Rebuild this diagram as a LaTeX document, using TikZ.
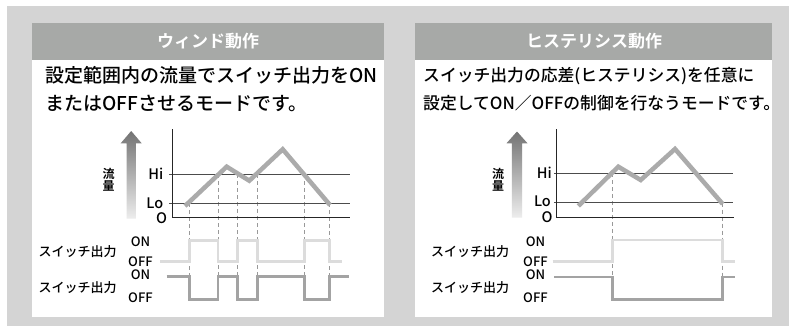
\documentclass[tikz,border=0pt]{standalone}
\usepackage{fontspec}
\setmainfont{Noto Sans CJK JP}[UprightFont={* Medium}, BoldFont={* Bold}]
\definecolor{bggray}{HTML}{D4D4D4}
\definecolor{headgray}{HTML}{A7A9A7}
\definecolor{flowgray}{HTML}{ABABAB}
\definecolor{onlight}{HTML}{DCDCDC}
\definecolor{onmid}{HTML}{A3A3A3}
\begin{document}
\begin{tikzpicture}[x=1pt, y=-1pt,
  headtext/.style={text=white, inner sep=0pt, font=\fontsize{17}{17}\selectfont\bfseries},
  desc/.style={anchor=west, inner sep=0pt, font=\fontsize{19}{19}\selectfont},
  descnarrow/.style={anchor=west, inner sep=0pt, font=\fontsize{16.8}{16.8}\selectfont},
  lbl/.style={inner sep=0pt, font=\fontsize{13}{13}\selectfont},
  lvl/.style={inner sep=0pt, font=\fontsize{14.5}{14.5}\selectfont},
  vtext/.style={inner sep=0pt, align=center, font=\fontsize{12}{12.5}\selectfont\bfseries},
  axisline/.style={line width=1.4pt, black!85},
  levelline/.style={line width=0.9pt, black!70},
  flowline/.style={line width=4.5pt, flowgray, line join=miter},
  guide/.style={line width=0.7pt, black!40, dash pattern=on 4pt off 3pt},
  swone/.style={line width=2.6pt, onlight},
  swtwo/.style={line width=2.6pt, onmid},
  uparrow/.style={top color=black!55, bottom color=black!7}]
\useasboundingbox (0,0) rectangle (789,326);
\fill[bggray] (7,6) rectangle (788.5,326);

% window mode
\fill[white] (32,60) rectangle (384,317);
\fill[headgray] (32,23) rectangle (384,60);
\node[headtext] (whead) at (208,41.5) {ウィンド動作};
\node[desc] (wtext1) at (45,75) {設定範囲内の流量でスイッチ出力をON};
\node[desc] (wtext2) at (45,103.5) {またはOFFさせるモードです。};

\draw[guide] (189.3,203.3) -- (189.3,277);
\draw[guide] (218,174.3) -- (218,277);
\draw[guide] (237.5,174.3) -- (237.5,277);
\draw[guide] (257.3,174.3) -- (257.3,277);
\draw[guide] (304.5,174.3) -- (304.5,277);
\draw[guide] (329.5,203.3) -- (329.5,277);

\draw[levelline] (169,174.3) -- (350,174.3);
\draw[levelline] (169,203.3) -- (350,203.3);
\draw[axisline] (172.3,129) -- (172.3,217.3) -- (350,217.3);
\draw[flowline] (185,206) -- (226.7,166.7) -- (249.3,180.7) -- (282.7,149.3) -- (330,205);

\draw[swone] (160,261.7) -- (189.3,261.7) -- (189.3,240.7) -- (218,240.7) -- (218,261.7)
  -- (237.5,261.7) -- (237.5,240.7) -- (257.3,240.7) -- (257.3,261.7)
  -- (304.5,261.7) -- (304.5,240.7) -- (329.5,240.7) -- (329.5,261.7) -- (341.7,261.7);
\draw[swtwo] (166.7,276.7) -- (189.3,276.7) -- (189.3,299.3) -- (218,299.3) -- (218,276.7)
  -- (237.5,276.7) -- (237.5,299.3) -- (257.3,299.3) -- (257.3,276.7)
  -- (304.5,276.7) -- (304.5,299.3) -- (329.5,299.3) -- (329.5,276.7) -- (349.3,276.7);

\shade[uparrow] (126.5,218.5) -- (126.5,143.3) -- (120.7,143.3) -- (131.2,131)
  -- (141.7,143.3) -- (135.9,143.3) -- (135.9,218.5) -- cycle;
\node[vtext] (wflow) at (108.5,180) {流\\量};
\node[lvl, anchor=east] (whi) at (163.5,174) {Hi};
\node[lvl, anchor=east] (wlo) at (163.5,203) {Lo};
\node[lvl] (wzero) at (161.5,218.5) {O};
\node[lbl] (won1) at (140.5,242) {ON};
\node[lbl] (woff1) at (140.5,262) {OFF};
\node[lbl] (won2) at (140.5,275) {ON};
\node[lbl] (woff2) at (140.5,297.5) {OFF};
\node[lbl] (wsw1) at (77.5,252) {スイッチ出力};
\node[lbl] (wsw2) at (77.5,287.5) {スイッチ出力};

% hysteresis mode
\fill[white] (415,60) rectangle (772,317);
\fill[headgray] (415,23) rectangle (772,60);
\node[headtext] (hhead) at (594,41.5) {ヒステリシス動作};
\node[descnarrow] (htext1) at (423,76) {スイッチ出力の応差(ヒステリシス)を任意に};
\node[descnarrow] (htext2) at (423,103.5) {設定してON／OFFの制御を行なうモードです。};

\draw[guide] (612.3,173.3) -- (612.3,277);
\draw[guide] (722.3,202.7) -- (722.3,277);

\draw[levelline] (554,173.3) -- (732.7,173.3);
\draw[levelline] (554,202.7) -- (732.7,202.7);
\draw[axisline] (556.7,129) -- (556.7,217.3) -- (734.3,217.3);
\draw[flowline] (578.3,206) -- (618.3,166.7) -- (640.7,180) -- (675,149) -- (722.7,204);

\draw[swone] (552.7,261.7) -- (612.3,261.7) -- (612.3,240) -- (722.3,240) -- (722.3,261.7) -- (735,261.7);
\draw[swtwo] (554,277) -- (612.3,277) -- (612.3,299.3) -- (722.3,299.3) -- (722.3,277) -- (735,277);

\shade[uparrow] (511.8,217.5) -- (511.8,143.3) -- (506.5,143.3) -- (517,131.5)
  -- (527.5,143.3) -- (522,143.3) -- (522,217.5) -- cycle;
\node[vtext] (hflow) at (498,180) {流\\量};
\node[lvl, anchor=east] (hhi) at (552,172.5) {Hi};
\node[lvl, anchor=east] (hlo) at (551,201) {Lo};
\node[lvl] (hzero) at (547,217.5) {O};
\node[lbl] (hon1) at (535.5,242) {ON};
\node[lbl] (hoff1) at (535.5,262) {OFF};
\node[lbl] (hon2) at (535.5,275) {ON};
\node[lbl] (hoff2) at (535.5,297.5) {OFF};
\node[lbl] (hsw1) at (470,252) {スイッチ出力};
\node[lbl] (hsw2) at (470,287.5) {スイッチ出力};
\end{tikzpicture}
\end{document}
